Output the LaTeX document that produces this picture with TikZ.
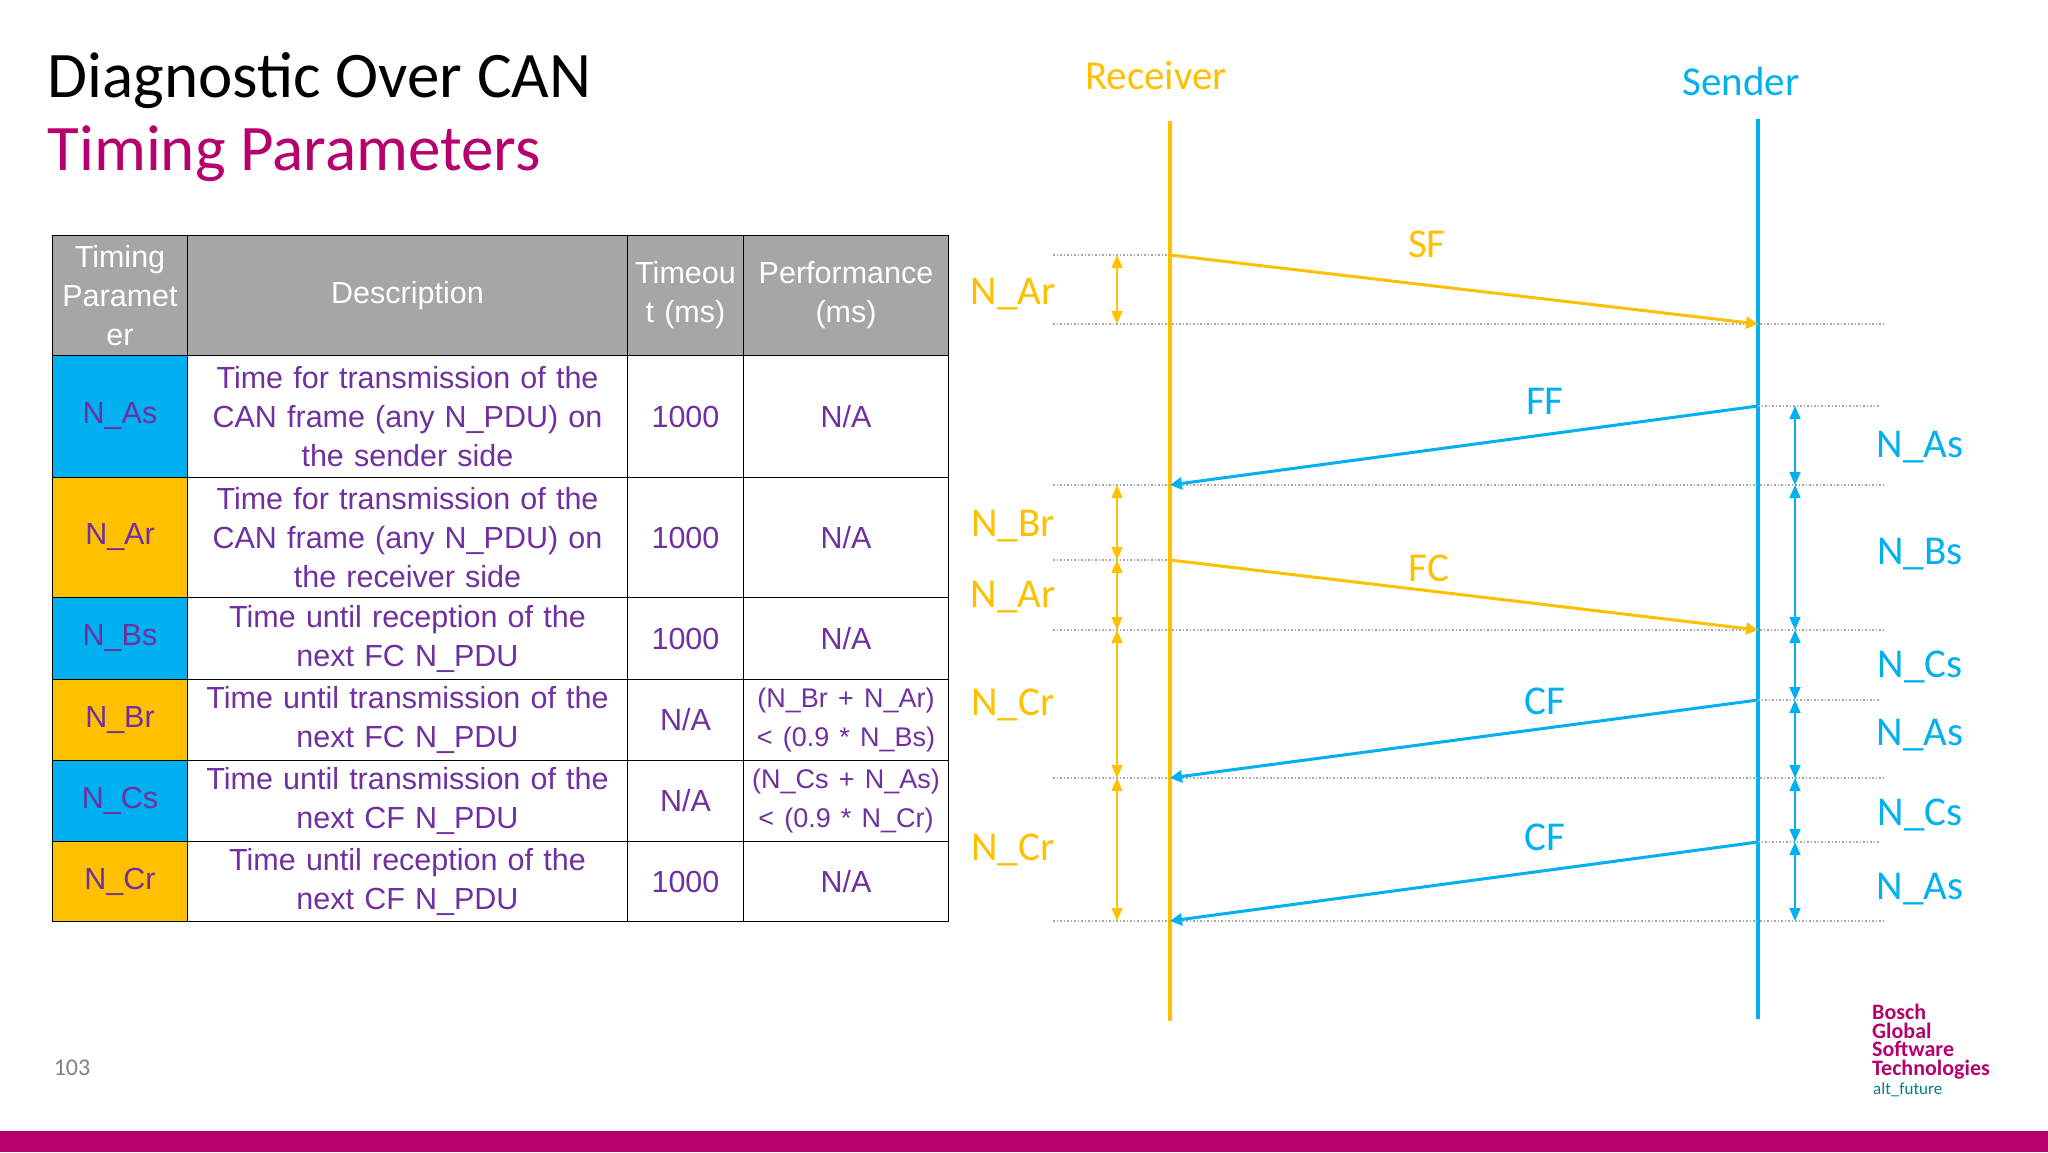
\documentclass[tikz,border=0pt]{standalone}
\usepackage{fontspec}
\setmainfont{Carlito}
\newfontfamily\arial{Liberation Sans}
\usetikzlibrary{arrows.meta}
\definecolor{yel}{HTML}{FFC000}
\definecolor{blu}{HTML}{00B0F0}
\definecolor{mag}{HTML}{B5006E}
\definecolor{pur}{HTML}{7030A0}
\definecolor{hdr}{HTML}{A6A6A6}
\begin{document}
\begin{tikzpicture}[x=1pt,y=-1pt,
 cell/.style={draw=black,line width=1pt,anchor=north west,inner sep=0pt,align=center,font=\arial\fontsize{30.5}{39}\selectfont,text=pur},
 hd/.style={cell,fill=hdr,text=white},
 dot/.style={gray!70,line width=1.5pt,dotted},
 msgY/.style={yel,line width=3pt,-{Triangle[length=12pt,width=12pt]}},
 msgB/.style={blu,line width=3pt,-{Triangle[length=12pt,width=12pt]}},
 dimY/.style={yel,line width=1.5pt,{Triangle[length=13pt,width=11pt]}-{Triangle[length=13pt,width=11pt]}},
 dimB/.style={blu,line width=1.5pt,{Triangle[length=13pt,width=11pt]}-{Triangle[length=13pt,width=11pt]}},
 lbl/.style={font=\fontsize{41}{44}\selectfont},
 ]
\useasboundingbox (0,0) rectangle (2048,1152);
\fill[mag] (0,1131) rectangle (2048,1152);
\node[anchor=west,font=\fontsize{65}{66}\selectfont] (t1) at (44,81) {Diagnostic Over CAN};
\node[anchor=west,font=\fontsize{65}{66}\selectfont,text=mag] (t2) at (44,154) {Timing Parameters};
\node[gray,font=\fontsize{24}{26}\selectfont] (pg) at (72,1068) {103};
\node[anchor=north west,align=left,text=mag,font=\bfseries\fontsize{22}{18.5}\selectfont,inner sep=0pt] (logo) at (1872,1004) {Bosch\\Global\\Software\\Technologies};
\node[anchor=north west,text=teal,font=\fontsize{17}{18}\selectfont,inner sep=0pt] (logo2) at (1873,1082) {alt\_future};
% table
\newcommand\trow[9]{%
 \node[#9,minimum width=135pt,minimum height=#2pt,text width=132pt] (a#3) at (52,#1) {#4};
 \node[#8,minimum width=440pt,minimum height=#2pt,text width=436pt] (b#3) at (187,#1) {#5};
 \node[#8,minimum width=116pt,minimum height=#2pt,text width=116pt] (c#3) at (627,#1) {#6};
 \node[#8,minimum width=205pt,minimum height=#2pt,text width=205pt] (d#3) at (743,#1) {#7};}
\trow{235}{120}{0}{Timing\\Paramet\\er}{Description}{Timeou\\t (ms)}{Performance\\(ms)}{hd}{hd}
\trow{355}{122}{1}{N\_As}{Time for transmission of the\\CAN frame (any N\_PDU) on\\the sender side}{1000}{N/A}{cell}{cell,fill=blu}
\trow{477}{120}{2}{N\_Ar}{Time for transmission of the\\CAN frame (any N\_PDU) on\\the receiver side}{1000}{N/A}{cell}{cell,fill=yel}
\trow{597}{82}{3}{N\_Bs}{Time until reception of the\\next FC N\_PDU}{1000}{N/A}{cell}{cell,fill=blu}
\trow{679}{81}{4}{N\_Br}{Time until transmission of the\\next FC N\_PDU}{N/A}{\fontsize{27}{34}\selectfont(N\_Br + N\_Ar)\\< (0.9 * N\_Bs)}{cell}{cell,fill=yel}
\trow{760}{81}{5}{N\_Cs}{Time until transmission of the\\next CF N\_PDU}{N/A}{\fontsize{27}{34}\selectfont(N\_Cs + N\_As)\\< (0.9 * N\_Cr)}{cell}{cell,fill=blu}
\trow{841}{80}{6}{N\_Cr}{Time until reception of the\\next CF N\_PDU}{1000}{N/A}{cell}{cell,fill=yel}
% lifelines
\node[yel,lbl] (rl) at (1156,76) {Receiver};
\node[blu,lbl] (sl) at (1741,81) {Sender};
\coordinate (rt) at (1170,121); \coordinate (rb) at (1170,1021);
\coordinate (st) at (1758,119); \coordinate (sb) at (1758,1019);
\draw[yel,line width=4pt] (rt) -- (rb);
\draw[blu,line width=4pt] (st) -- (sb);
% dotted
\foreach \y in {324,485,630,778,921} \draw[dot] (1053,\y) -- (1885,\y);
\foreach \y in {255,560} \draw[dot] (1053,\y) -- (1170,\y);
\foreach \y in {406,700,842} \draw[dot] (1758,\y) -- (1880,\y);
% messages
\coordinate (m1a) at (1170,255); \coordinate (m1b) at (1758,324);
\coordinate (m2a) at (1758,406); \coordinate (m2b) at (1170,485);
\coordinate (m3a) at (1170,560); \coordinate (m3b) at (1758,630);
\coordinate (m4a) at (1758,700); \coordinate (m4b) at (1170,778);
\coordinate (m5a) at (1758,842); \coordinate (m5b) at (1170,921);
\draw[msgY] (m1a) -- (m1b);
\draw[msgB] (m2a) -- (m2b);
\draw[msgY] (m3a) -- (m3b);
\draw[msgB] (m4a) -- (m4b);
\draw[msgB] (m5a) -- (m5b);
\node[yel,lbl] (sf) at (1427,244) {SF};
\node[blu,lbl] (ff) at (1545,401) {FF};
\node[yel,lbl] (fc) at (1429,568) {FC};
\node[blu,lbl] (cf1) at (1545,701) {CF};
\node[blu,lbl] (cf2) at (1545,837) {CF};
% left dims
\foreach \a/\b in {255/324,485/560,560/630,630/778,778/921} \draw[dimY] (1117,\a) -- (1117,\b);
\foreach \y/\t in {294/N\_Ar,526/N\_Br,597/N\_Ar,705/N\_Cr,850/N\_Cr} \node[yel,lbl] at (1013,\y) {\t};
% right dims
\foreach \a/\b in {406/485,485/630,630/700,700/778,778/842,842/921} \draw[dimB] (1795,\a) -- (1795,\b);
\foreach \y/\t in {447/N\_As,554/N\_Bs,667/N\_Cs,735/N\_As,815/N\_Cs,889/N\_As} \node[blu,lbl] at (1920,\y) {\t};
\end{tikzpicture}
\end{document}
